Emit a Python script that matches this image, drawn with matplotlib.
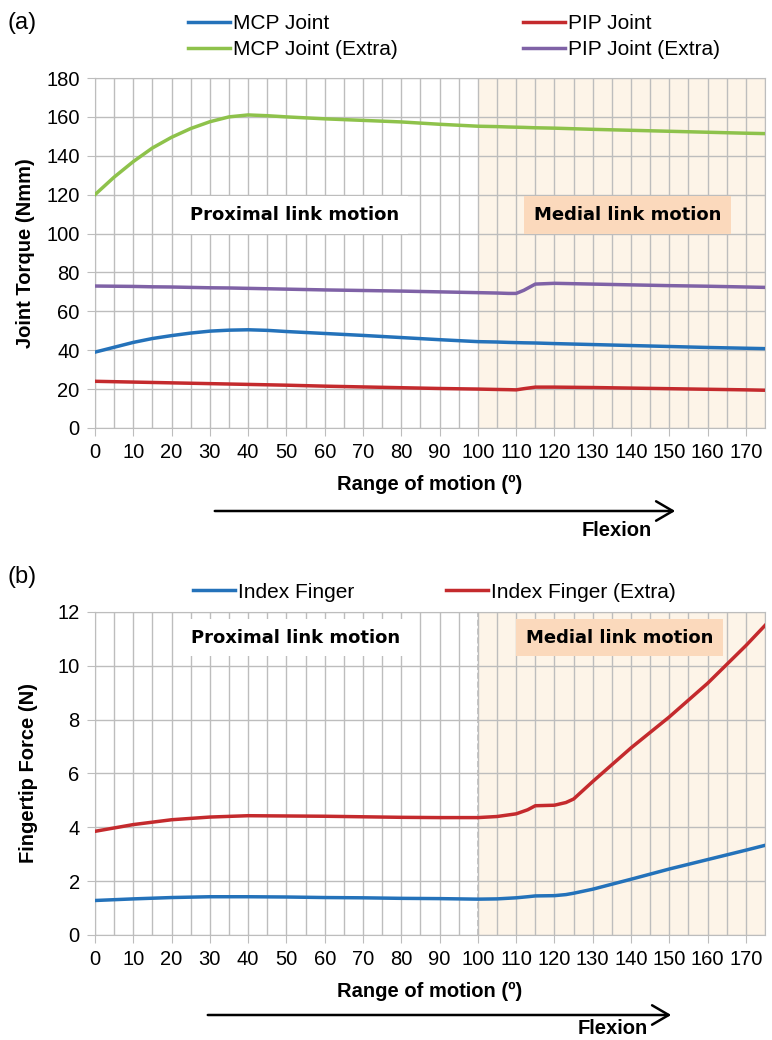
import numpy as np
import matplotlib.pyplot as plt
from matplotlib.patches import FancyArrowPatch

# top chart: joint torques (Nmm) vs range of motion (deg)
ang_a = [0, 5, 10, 15, 20, 25, 30, 35, 40, 45, 50, 60, 70, 80, 90, 100,
         105, 108, 110, 112, 115, 120, 130, 140, 150, 160, 170, 175]
mcp = [39, 41.5, 44, 46, 47.5, 48.8, 49.8, 50.3, 50.5, 50.2, 49.6, 48.6, 47.6, 46.5, 45.4, 44.4,
       44.2, 44.0, 43.9, 43.8, 43.7, 43.4, 42.9, 42.4, 41.9, 41.4, 41.0, 40.8]
pip = [24, 23.8, 23.6, 23.4, 23.2, 23.0, 22.8, 22.6, 22.4, 22.2, 22.0, 21.5, 21.1, 20.7, 20.3, 20.0,
       19.8, 19.7, 19.6, 20.2, 21.0, 21.0, 20.8, 20.5, 20.2, 19.9, 19.6, 19.4]
mcp_x = [120, 129, 137, 144, 149.5, 154, 157.5, 160, 161, 160.6, 160, 159, 158.2, 157.4, 156.2, 155.2,
         155, 154.8, 154.7, 154.6, 154.4, 154.2, 153.6, 153.1, 152.6, 152.1, 151.6, 151.4]
pip_x = [73, 72.9, 72.8, 72.6, 72.5, 72.3, 72.1, 72.0, 71.8, 71.6, 71.4, 71.0, 70.7, 70.4, 70.0, 69.6,
         69.4, 69.2, 69.2, 70.8, 74.0, 74.4, 74.0, 73.6, 73.2, 72.9, 72.5, 72.3]

# bottom chart: fingertip force (N)
ang_b = [0, 10, 20, 30, 40, 50, 60, 70, 80, 90, 100, 105, 110, 113, 115, 120, 123, 125,
         130, 140, 150, 160, 170, 175]
idx = [1.28, 1.34, 1.39, 1.42, 1.42, 1.41, 1.39, 1.38, 1.36, 1.35, 1.33, 1.34, 1.38, 1.42, 1.45, 1.46, 1.5, 1.55,
       1.7, 2.07, 2.45, 2.8, 3.15, 3.33]
idx_x = [3.85, 4.1, 4.28, 4.38, 4.43, 4.42, 4.41, 4.39, 4.37, 4.36, 4.36, 4.4, 4.5, 4.65, 4.8, 4.82, 4.92, 5.05,
         5.7, 6.95, 8.1, 9.35, 10.75, 11.5]

xticks = np.arange(0, 171, 10)

blue = '#2472BA'
red = '#C42A2D'
green = '#8EC24B'
purple = '#7F62A6'
gridc = '#BDBDBD'
shade = '#FDF4E8'
boxc = '#FBD9BC'

plt.rcParams['font.family'] = ['Liberation Sans', 'DejaVu Sans']
boxfont = 'DejaVu Sans'

fig = plt.figure(figsize=(7.72, 10.40), dpi=100)
ax1 = fig.add_axes([0.123, 0.5885, 0.868, 0.3365])
ax2 = fig.add_axes([0.123, 0.101, 0.868, 0.3106])


def style(ax, ymax, ystep):
    ax.set_xlim(0, 175)
    ax.set_ylim(0, ymax)
    ax.axvspan(100, 175, color=shade, zorder=0, lw=0)
    ax.set_xticks(xticks)
    ax.set_xticks(np.arange(5, 176, 10), minor=True)
    ax.set_yticks(np.arange(0, ymax + 0.01, ystep))
    ax.grid(True, which='both', axis='x', color=gridc, lw=1.0, zorder=1)
    ax.grid(True, which='major', axis='y', color=gridc, lw=1.0, zorder=1)
    ax.set_axisbelow(True)
    for s in ax.spines.values():
        s.set_color(gridc)
    ax.tick_params(axis='both', which='major', color=gridc, length=6, labelsize=14.5, pad=5)
    ax.tick_params(axis='x', which='minor', length=0)
    ax.set_xlabel('Range of motion (º)', fontsize=14.5, fontweight='bold', labelpad=9)


def column_legend(handles, x, y):
    fig.legend(handles=handles, loc='center left', bbox_to_anchor=(x, y),
               frameon=False, fontsize=15, handlelength=2.0, handletextpad=0.15,
               labelspacing=0.35, borderpad=0, borderaxespad=0)


style(ax1, 180, 20)
l1, = ax1.plot(ang_a, mcp, color=blue, lw=2.5, label='MCP Joint', zorder=3)
l2, = ax1.plot(ang_a, pip, color=red, lw=2.5, label='PIP Joint', zorder=3)
l3, = ax1.plot(ang_a, mcp_x, color=green, lw=2.5, label='MCP Joint (Extra)', zorder=3)
l4, = ax1.plot(ang_a, pip_x, color=purple, lw=2.5, label='PIP Joint (Extra)', zorder=3)
ax1.set_ylabel('Joint Torque (Nmm)', fontsize=14.5, fontweight='bold', labelpad=8)
ax1.text(52, 109.5, 'Proximal link motion', ha='center', va='center', fontsize=13,
         fontweight='bold', family=boxfont, zorder=4,
         bbox=dict(facecolor='white', edgecolor='none', pad=7))
ax1.text(139, 109.5, 'Medial link motion', ha='center', va='center', fontsize=13,
         fontweight='bold', family=boxfont, zorder=4,
         bbox=dict(facecolor=boxc, edgecolor='none', pad=7))
column_legend([l1, l3], 188 / 772, 1 - 36.5 / 1040)
column_legend([l2, l4], 523 / 772, 1 - 36.5 / 1040)
fig.text(0.01, 0.978, '(a)', fontsize=17, va='center')

style(ax2, 12, 2)
ax2.axvline(100, color=gridc, ls='--', lw=1.2, zorder=1.5)
m1, = ax2.plot(ang_b, idx, color=blue, lw=2.5, label='Index Finger', zorder=3)
m2, = ax2.plot(ang_b, idx_x, color=red, lw=2.5, label='Index Finger (Extra)', zorder=3)
ax2.set_ylabel('Fingertip Force (N)', fontsize=14.5, fontweight='bold', labelpad=14)
ax2.text(52.5, 11.05, 'Proximal link motion', ha='center', va='center', fontsize=13,
         fontweight='bold', family=boxfont, zorder=4,
         bbox=dict(facecolor='white', edgecolor='none', pad=7))
ax2.text(137, 11.05, 'Medial link motion', ha='center', va='center', fontsize=13,
         fontweight='bold', family=boxfont, zorder=4,
         bbox=dict(facecolor=boxc, edgecolor='none', pad=7))
column_legend([m1], 193 / 772, 1 - 592 / 1040)
column_legend([m2], 446 / 772, 1 - 592 / 1040)
fig.text(0.01, 0.445, '(b)', fontsize=17, va='center')

# flexion arrows
for y_arr, x0, x1, y_txt, x_txt in [(511, 212, 678, 530, 617),
                                     (1015, 205, 674, 1029, 613)]:
    fig.add_artist(FancyArrowPatch(
        (x0 / 772, 1 - y_arr / 1040), (x1 / 772, 1 - y_arr / 1040), transform=fig.transFigure,
        arrowstyle='->,head_length=6,head_width=3.5', lw=1.8, color='black',
        mutation_scale=2))
    fig.text(x_txt / 772, 1 - y_txt / 1040, 'Flexion', fontsize=14.5, fontweight='bold',
             ha='center', va='center')

fig.savefig('out.png', dpi=100)
